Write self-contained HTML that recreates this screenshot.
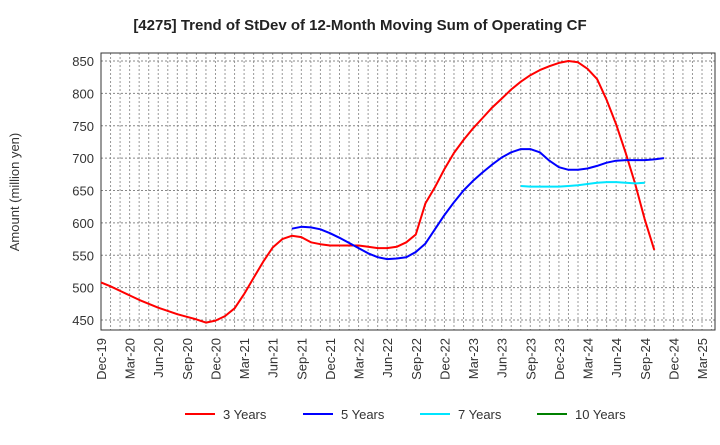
<!DOCTYPE html>
<html><head><meta charset="utf-8"><style>
body{margin:0;background:#fff;font-family:"Liberation Sans",Arial,sans-serif}
svg text{font-family:"Liberation Sans",Arial,sans-serif}
</style></head><body>
<svg id="c" width="720" height="440" xmlns="http://www.w3.org/2000/svg">
<text x="360" y="30" text-anchor="middle" font-size="15" font-weight="bold" fill="#222">[4275]  Trend of StDev of 12-Month Moving Sum of Operating CF</text>
<text transform="translate(19,192) rotate(-90)" text-anchor="middle" font-size="13" fill="#333">Amount (million yen)</text>
<g id="grid"></g><g id="axes"></g><g id="series"></g><g id="legend"></g>
</svg>
<script>
const xLabels=["Dec-19","Mar-20","Jun-20","Sep-20","Dec-20","Mar-21","Jun-21","Sep-21","Dec-21","Mar-22","Jun-22","Sep-22","Dec-22","Mar-23","Jun-23","Sep-23","Dec-23","Mar-24","Jun-24","Sep-24","Dec-24","Mar-25"];
const yTicks=[450,500,550,600,650,700,750,800,850];
const seriesNames=["3 Years","5 Years","7 Years","10 Years"];
const seriesColors=["#ff0000","#0000ff","#00e5ff","#008000"];
const start3=0;
const vals3=[508,502,495,488,481,475,469,464,459,455,451,446,449,456,468,490,515,540,562,575,580,578,570,567,565,565,565,565,563,561,561,563,570,582,630,655,683,708,728,746,762,778,792,806,818,828,836,842,847,850,848,838,822,790,752,708,660,605,558];
const start5=20;
const vals5=[591,594,593,590,584,577,569,561,553,547,544,545,547,555,568,590,612,632,650,665,678,690,701,709,714,714,709,696,686,682,682,684,688,693,696,697,697,697,698,700];
const start7=44;
const vals7=[657,656,656,656,656,657,658,660,662,663,663,662,661,662];
const start10=0;
const vals10=[];
const NS="http://www.w3.org/2000/svg";
const L=101,R=715,T=53,B=330,PM=9.54;
function xM(m){return L+m*PM;}
function yV(v){return 61+(850-v)*0.6475;}
function mk(tag,attrs,parent){const e=document.createElementNS(NS,tag);for(const k in attrs)e.setAttribute(k,attrs[k]);parent.appendChild(e);return e;}
const grid=document.getElementById('grid'),axes=document.getElementById('axes'),ser=document.getElementById('series'),leg=document.getElementById('legend');
for(let m=1;xM(m)<R;m++){
  const l=mk('line',{x1:xM(m),x2:xM(m),y1:T,y2:B,stroke:'#999','stroke-dasharray':'2,2','stroke-width':1},grid);
  
  
}
yTicks.forEach(v=>{
  const l=mk('line',{x1:L,x2:R,y1:yV(v),y2:yV(v),stroke:'#888','stroke-dasharray':'2,2','stroke-width':1},grid);
  
  
  const t=mk('text',{x:L-7,y:yV(v)+5,'text-anchor':'end','font-size':13,fill:'#333'},axes);
  t.textContent=v;
  
  
});
const frame=mk('rect',{x:L,y:T,width:R-L,height:B-T,fill:'none',stroke:'#333','stroke-width':1},axes);


xLabels.forEach((s,i)=>{
  const x=xM(i*3);
  const t=mk('text',{transform:`translate(${x+5},${B+8}) rotate(-90)`,'text-anchor':'end','font-size':13,fill:'#333'},axes);
  t.textContent=s;
  
  
});
[[start3,vals3],[start5,vals5],[start7,vals7],[start10,vals10]].forEach(([s,vals],i)=>{
  if(!vals.length)return;
  const d=vals.map((v,j)=>(j?'L':'M')+xM(s+j).toFixed(1)+','+yV(v).toFixed(1)).join(' ');
  const p=mk('path',{d:d,fill:'none',stroke:seriesColors[i],'stroke-width':2,'stroke-linejoin':'round'},ser);
  
  
});
const lx=[185,303,420,537];
seriesNames.forEach((n,i)=>{
  const g=mk('g',{},leg);
  
  
  mk('line',{x1:lx[i],x2:lx[i]+30,y1:414,y2:414,stroke:seriesColors[i],'stroke-width':2},g);
  const t=mk('text',{x:lx[i]+38,y:419,'font-size':13,fill:'#333'},g);
  t.textContent=n;
});
</script>
</body></html>
